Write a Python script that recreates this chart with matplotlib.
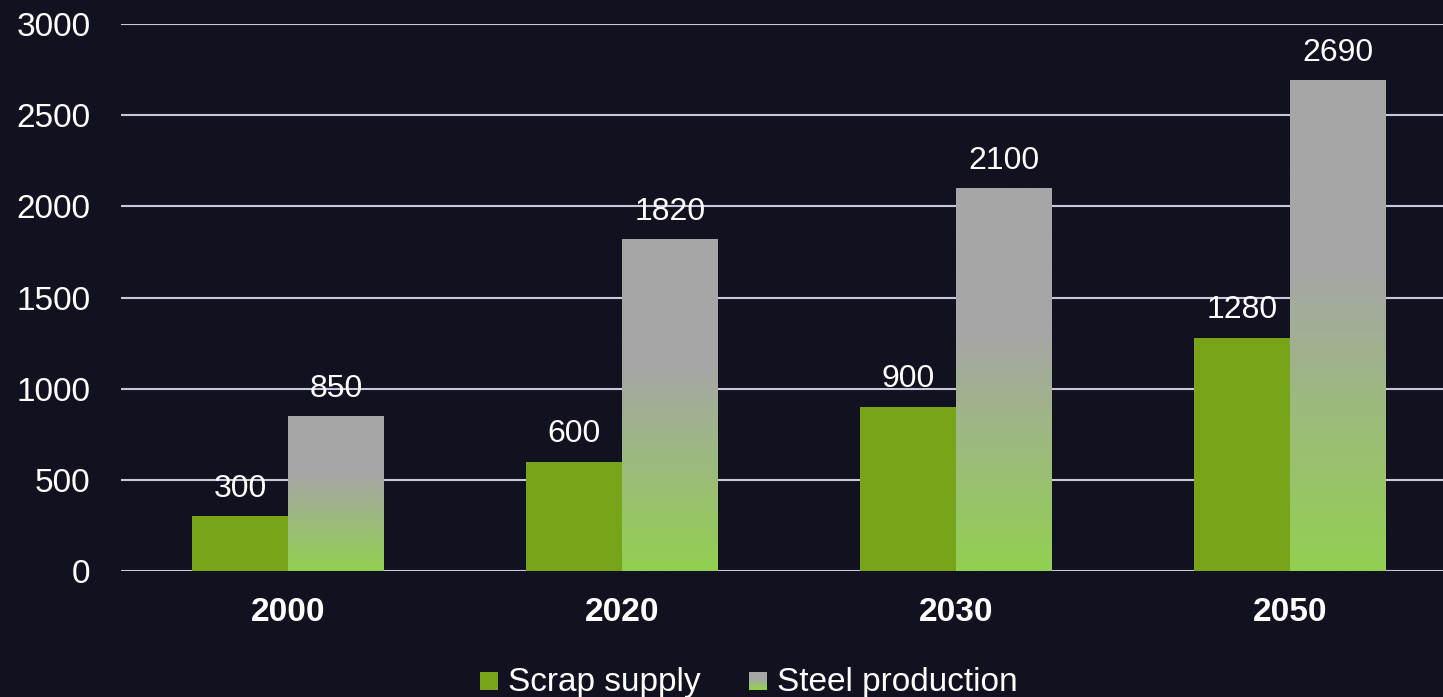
import matplotlib.pyplot as plt
import numpy as np
from matplotlib.legend_handler import HandlerBase
from matplotlib.patches import Rectangle
from matplotlib.colors import to_rgb

years = ["2000", "2020", "2030", "2050"]
scrap_supply = [300, 600, 900, 1280]
steel_production = [850, 1820, 2100, 2690]
y_ticks = [0, 500, 1000, 1500, 2000, 2500, 3000]

BG = "#12111f"
GREEN = "#77a419"
GRAY = "#a6a6a6"
LIGHT_GREEN = "#92d050"
GRID = "#c9c7db"
FONT = "Liberation Sans"


def gradient_rgb(n=200, stop=0.38):
    # top -> bottom: solid grey until `stop`, then blend to light green
    t = np.linspace(0, 1, n)
    w = np.clip((t - stop) / (1 - stop), 0, 1)[:, None]
    return (1 - w) * np.array(to_rgb(GRAY)) + w * np.array(to_rgb(LIGHT_GREEN))


def square_box(xdescent, ydescent, width, height):
    size = 13
    x0 = -xdescent + width - size
    y0 = -ydescent + (height - size) / 2 - 1
    return x0, y0, size


class HandlerGradient(HandlerBase):
    def create_artists(self, legend, orig_handle, xdescent, ydescent,
                       width, height, fontsize, trans):
        x0, y0, size = square_box(xdescent, ydescent, width, height)
        cols = gradient_rgb(12)
        n = len(cols)
        arts = []
        for i, c in enumerate(cols):
            arts.append(Rectangle((x0, y0 + size * (n - 1 - i) / n), size, size / n + 0.2,
                                  facecolor=c, edgecolor="none", transform=trans))
        return arts


class HandlerSquare(HandlerBase):
    def create_artists(self, legend, orig_handle, xdescent, ydescent,
                       width, height, fontsize, trans):
        x0, y0, size = square_box(xdescent, ydescent, width, height)
        return [Rectangle((x0, y0), size, size, facecolor=GREEN,
                          edgecolor="none", transform=trans)]


fig = plt.figure(figsize=(14.43, 6.97), dpi=100, facecolor=BG)
ax = fig.add_axes([121 / 1443, 126 / 697, 1322 / 1443, 547 / 697])
ax.set_facecolor(BG)

x = np.arange(len(years))
w = 0.287
b1 = ax.bar(x - w / 2, scrap_supply, w, color=GREEN, zorder=3)
b2 = ax.bar(x + w / 2, steel_production, w, color="none", zorder=3)

grad = gradient_rgb(300)[:, None, :]
for rect in b2:
    x0, h = rect.get_x(), rect.get_height()
    ax.imshow(grad, extent=(x0, x0 + rect.get_width(), 0, h),
              aspect="auto", zorder=3, interpolation="bilinear")

for rects in (b1, b2):
    for rect in rects:
        ax.annotate(f"{rect.get_height():.0f}",
                    (rect.get_x() + rect.get_width() / 2, rect.get_height()),
                    xytext=(0, 9), textcoords="offset points",
                    ha="center", va="bottom", color="white",
                    fontsize=23, family=FONT, zorder=4)

ax.set_xlim(-0.5, -0.5 + 1322 / 334)
ax.set_ylim(0, 3000)
ax.set_yticks(y_ticks)
ax.set_yticklabels([str(v) for v in y_ticks], color="white", fontsize=24, family=FONT)
ax.set_xticks(x)
ax.set_xticklabels(years, color="white", fontsize=24, family=FONT, fontweight="bold")
ax.tick_params(axis="y", length=0, pad=22)
ax.tick_params(axis="x", length=0, pad=19)
ax.yaxis.grid(True, color=GRID, linewidth=1.5, zorder=0)
ax.set_axisbelow(True)
for s in ax.spines.values():
    s.set_visible(False)

h1 = Rectangle((0, 0), 1, 1)
h2 = Rectangle((0, 0), 1, 1)
fig.legend([h1, h2], ["Scrap supply", "Steel production"],
           handler_map={h1: HandlerSquare(), h2: HandlerGradient()},
           loc="center", bbox_to_anchor=(748 / 1443, 1 - 683 / 697),
           ncol=2, frameon=False, handlelength=0.6, handleheight=0.7,
           handletextpad=0.3, columnspacing=1.4,
           prop={"family": FONT, "size": 24}, labelcolor="white")

fig.savefig("out.png", dpi=100, facecolor=BG)
